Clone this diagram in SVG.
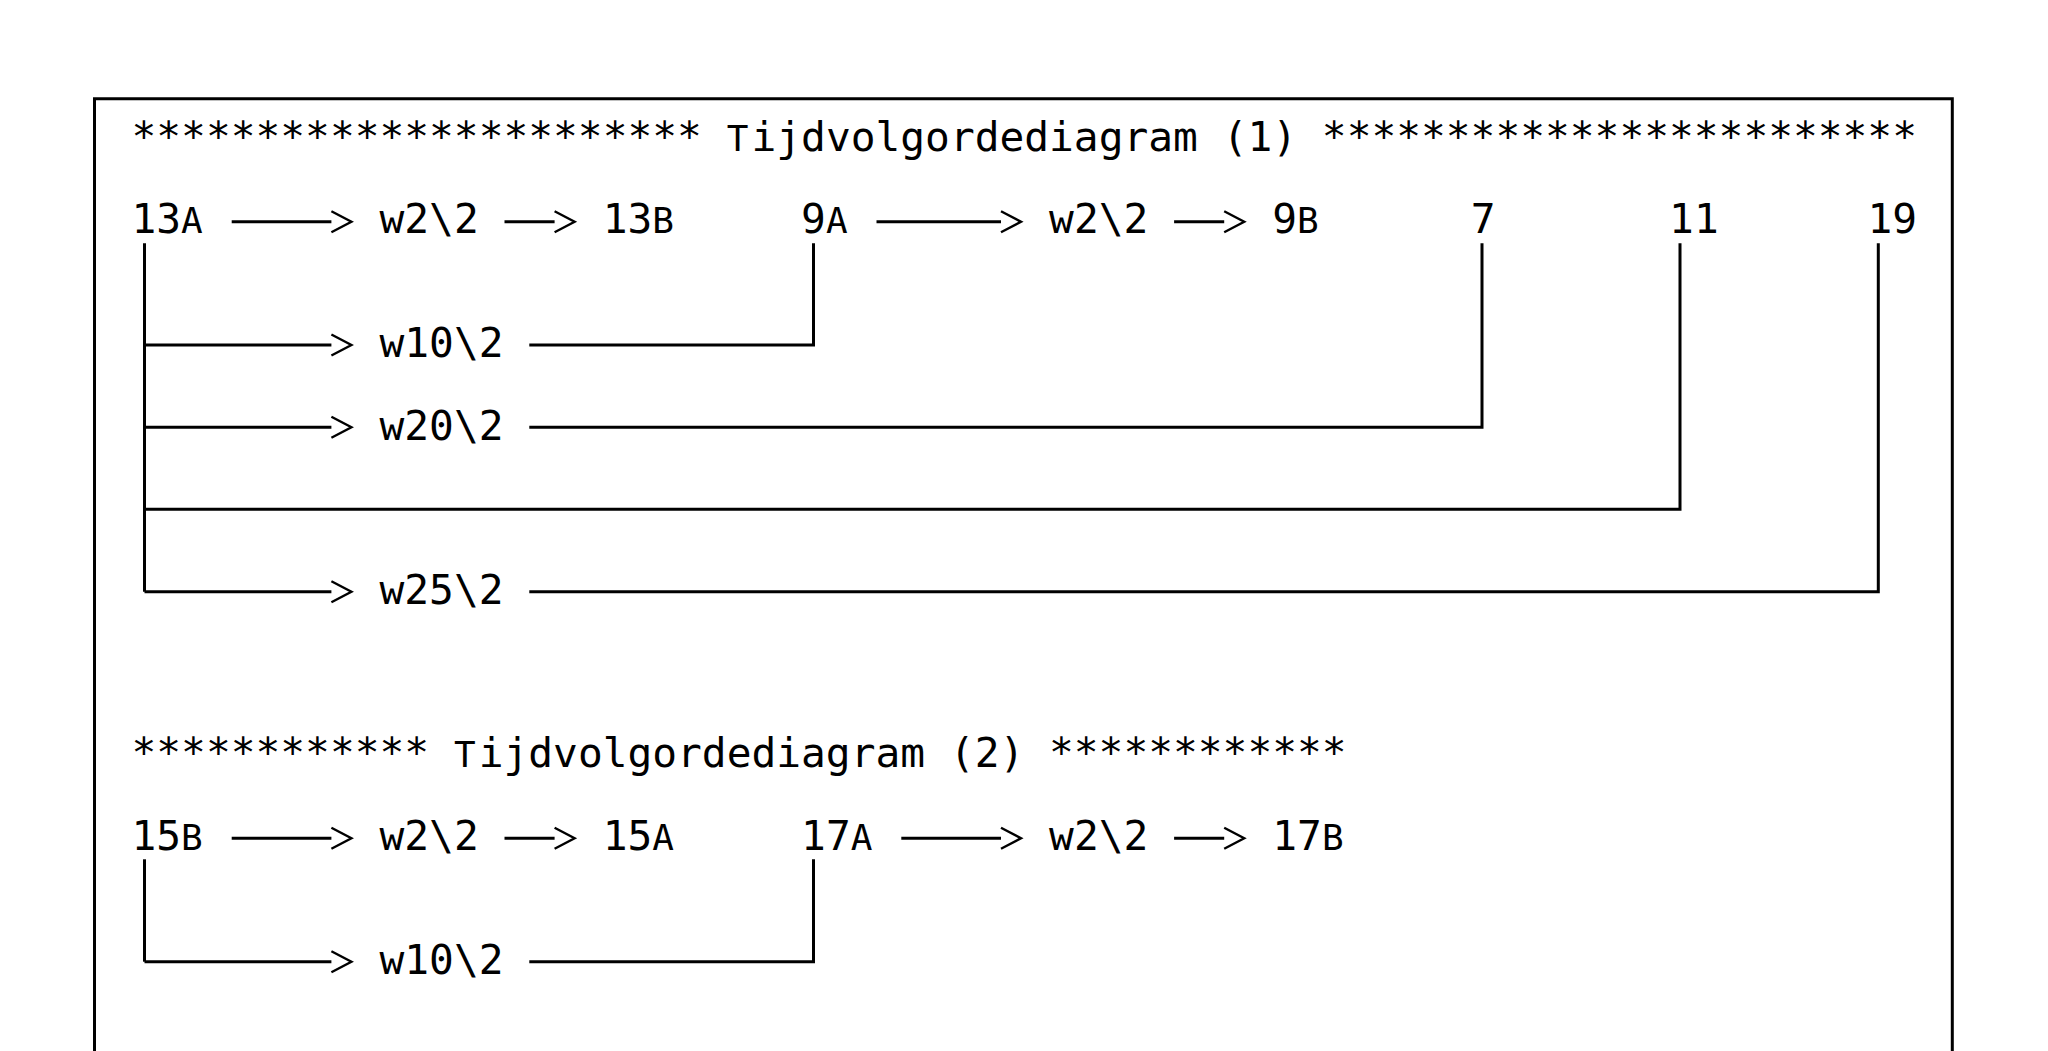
<svg xmlns="http://www.w3.org/2000/svg" width="2048" height="1051" viewBox="0 0 2048 1051">
<style>
  text { font-family: "DejaVu Sans Mono", "Liberation Mono", monospace; font-size: 41.2px; fill: #000; }
  .cap { font-size: 36px; }
  .ln { fill: none; stroke: #000; stroke-width: 3; stroke-linejoin: miter; stroke-linecap: butt; }
  .ar { marker-end: url(#chev); }
</style>
<defs>
  <marker id="chev" markerUnits="userSpaceOnUse" markerWidth="26" markerHeight="26" refX="0.5" refY="11" orient="auto" overflow="visible">
    <path d="M0.5,0.5 L20.5,11 L0.5,21.5" fill="none" stroke="#000" stroke-width="2.4"/>
  </marker>
</defs>
<rect width="2048" height="1051" fill="#fff"/>
<g id="frame">
  <path class="ln" d="M94.5,1060 V98.7 H1952.3 V1060"/>
</g>
<g id="connectors">
  <!-- diagram 1, top row -->
  <path class="ln ar" d="M231.7,221.7 H331.4"/>
  <path class="ln ar" d="M504.5,221.7 H554.6"/>
  <path class="ln ar" d="M876.5,221.7 H1001"/>
  <path class="ln ar" d="M1174.1,221.7 H1224.2"/>
  <!-- trunk from 13A -->
  <path class="ln" d="M144.5,243.3 V591.7"/>
  <path class="ln ar" d="M144.5,345 H331.4"/>
  <path class="ln ar" d="M144.5,427.3 H331.4"/>
  <path class="ln ar" d="M144.5,591.7 H331.4"/>
  <!-- returns -->
  <path class="ln" d="M529.3,345 H813.5 V243.3"/>
  <path class="ln" d="M529.3,427.3 H1482 V243.3"/>
  <path class="ln" d="M144.5,509.3 H1680 V243.3"/>
  <path class="ln" d="M529.3,591.7 H1878.3 V243.3"/>
  <!-- diagram 2 -->
  <path class="ln ar" d="M231.7,838.3 H331.4"/>
  <path class="ln ar" d="M504.5,838.3 H554.6"/>
  <path class="ln ar" d="M901.3,838.3 H1001"/>
  <path class="ln ar" d="M1174.1,838.3 H1224.2"/>
  <path class="ln" d="M144.5,859.3 V961.7"/>
  <path class="ln ar" d="M144.5,961.7 H331.4"/>
  <path class="ln" d="M529.3,961.7 H813.5 V859.3"/>
</g>
<g id="title1"><text x="131.5" y="151">*********************** <tspan class="cap">T</tspan><tspan x="751.5">ijdvolgordediagram (1) ************************</tspan></text></g>
<g id="n13A"><text x="131.5" y="233.3">13<tspan class="cap">A</tspan></text></g>
<g id="n13A-w2"><text x="379.5" y="233.3">w2\2</text></g>
<g id="n13B"><text x="602.7" y="233.3">13<tspan class="cap">B</tspan></text></g>
<g id="n9A"><text x="801.1" y="233.3">9<tspan class="cap">A</tspan></text></g>
<g id="n9A-w2"><text x="1049.1" y="233.3">w2\2</text></g>
<g id="n9B"><text x="1272.3" y="233.3">9<tspan class="cap">B</tspan></text></g>
<g id="n7"><text x="1470.7" y="233.3">7</text></g>
<g id="n11"><text x="1669.1" y="233.3">11</text></g>
<g id="n19"><text x="1867.5" y="233.3">19</text></g>
<g id="w10a"><text x="379.5" y="357.3">w10\2</text></g>
<g id="w20"><text x="379.5" y="439.6">w20\2</text></g>
<g id="w25"><text x="379.5" y="604">w25\2</text></g>
<g id="title2"><text x="131.5" y="767.3">************ <tspan class="cap">T</tspan><tspan x="478.7">ijdvolgordediagram (2) ************</tspan></text></g>
<g id="n15B"><text x="131.5" y="850">15<tspan class="cap">B</tspan></text></g>
<g id="n15B-w2"><text x="379.5" y="850">w2\2</text></g>
<g id="n15A"><text x="602.7" y="850">15<tspan class="cap">A</tspan></text></g>
<g id="n17A"><text x="801.1" y="850">17<tspan class="cap">A</tspan></text></g>
<g id="n17A-w2"><text x="1049.1" y="850">w2\2</text></g>
<g id="n17B"><text x="1272.3" y="850">17<tspan class="cap">B</tspan></text></g>
<g id="w10b"><text x="379.5" y="974">w10\2</text></g>
</svg>
